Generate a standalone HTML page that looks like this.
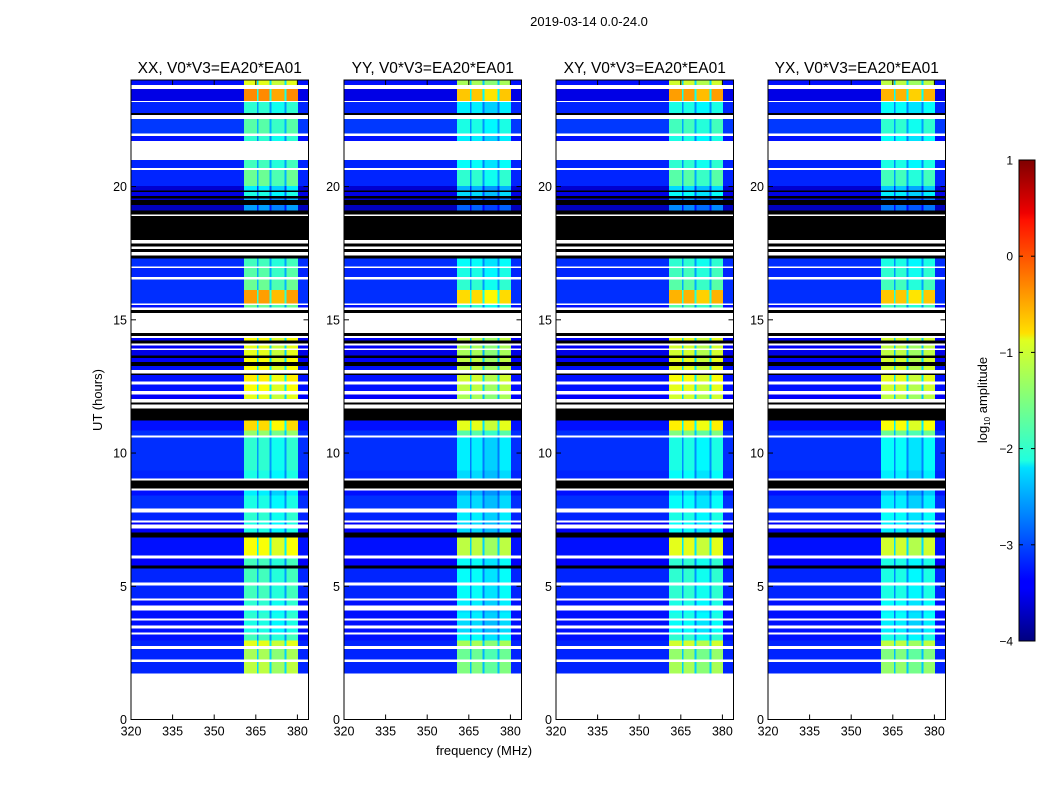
<!DOCTYPE html>
<html><head><meta charset="utf-8"><style>
html,body{margin:0;padding:0;background:#fff;}
body{width:1050px;height:800px;overflow:hidden;font-family:"Liberation Sans","DejaVu Sans",sans-serif;}
</style></head><body>
<svg id="fig" width="1050" height="800" xmlns="http://www.w3.org/2000/svg" font-family="Liberation Sans, DejaVu Sans, sans-serif">
<defs>
<linearGradient id="jet" x1="0" y1="1" x2="0" y2="0">
<stop offset="0" stop-color="#00007f"/><stop offset="0.11" stop-color="#0000ff"/><stop offset="0.125" stop-color="#0000ff"/>
<stop offset="0.36" stop-color="#00e0ff"/><stop offset="0.375" stop-color="#20ffdf"/><stop offset="0.5" stop-color="#7fff7f"/>
<stop offset="0.625" stop-color="#dfff20"/><stop offset="0.64" stop-color="#ffe000"/><stop offset="0.875" stop-color="#ff1000"/>
<stop offset="0.89" stop-color="#ef0000"/><stop offset="1" stop-color="#7f0000"/>
</linearGradient>
</defs>
<text x="589" y="26" font-size="13" text-anchor="middle">2019-03-14 0.0-24.0</text>
<g id="panels"></g>
<text transform="translate(102,400) rotate(-90)" font-size="13" text-anchor="middle">UT (hours)</text>
<text x="484" y="755" font-size="13" text-anchor="middle">frequency (MHz)</text>
<g id="cbar">
<rect x="1019" y="160" width="16" height="481" fill="url(#jet)" stroke="#000" stroke-width="1"/>
</g>
<text transform="translate(987,400) rotate(-90)" font-size="13" text-anchor="middle">log<tspan font-size="8" dy="3">10</tspan><tspan dy="-3"> amplitude</tspan></text>
</svg>
<script>
// ---- data ----
const panelTitles = ["XX, V0*V3=EA20*EA01","YY, V0*V3=EA20*EA01","XY, V0*V3=EA20*EA01","YX, V0*V3=EA20*EA01"];
const xTicks = [320,335,350,365,380];
const yTicks = [0,5,10,15,20];
const cbarTicks = [1,0,-1,-2,-3,-4];
const rfiBandStart = [360.7,366.0,370.6,376.0];
const rfiBandEnd = [365.4,370.0,375.3,380.3];
const rowHi = [24.0,23.81,23.66,23.21,23.17,22.76,22.68,22.53,22.00,21.89,21.71,20.99,20.69,20.62,20.02,19.86,19.79,19.64,19.56,19.49,19.30,19.11,18.96,18.90,18.00,17.87,17.76,17.65,17.54,17.42,17.31,17.01,16.94,16.60,16.52,16.11,15.62,15.55,15.47,15.36,15.25,14.50,14.39,14.31,14.23,14.12,14.04,13.93,13.86,13.67,13.56,13.41,13.26,13.11,12.99,12.92,12.69,12.58,12.32,12.20,12.02,11.90,11.83,11.68,11.23,10.85,10.66,10.59,9.35,9.05,8.97,8.67,8.60,8.41,7.92,7.77,7.47,7.40,7.32,7.17,7.02,6.83,6.16,6.05,5.78,5.67,5.14,5.03,4.54,4.47,4.28,4.09,4.02,3.79,3.72,3.53,3.42,3.27,3.19,2.97,2.75,2.65,2.25,2.15];
const rowLo = [23.81,23.66,23.21,23.17,22.76,22.68,22.53,22.00,21.89,21.71,20.99,20.69,20.62,20.02,19.86,19.79,19.64,19.56,19.49,19.30,19.11,18.96,18.90,18.00,17.87,17.76,17.65,17.54,17.42,17.31,17.01,16.94,16.60,16.52,16.11,15.62,15.55,15.47,15.36,15.25,14.50,14.39,14.31,14.23,14.12,14.04,13.93,13.86,13.67,13.56,13.41,13.26,13.11,12.99,12.92,12.69,12.58,12.32,12.20,12.02,11.90,11.83,11.68,11.23,10.85,10.66,10.59,9.35,9.05,8.97,8.67,8.60,8.41,7.92,7.77,7.47,7.40,7.32,7.17,7.02,6.83,6.16,6.05,5.78,5.67,5.14,5.03,4.54,4.47,4.28,4.09,4.02,3.79,3.72,3.53,3.42,3.27,3.19,2.97,2.75,2.65,2.25,2.15,1.72];
const rowKind = ["d","w","d","w","d","k","w","d","w","d","w","d","w","d","d","k","d","k","d","k","d","k","w","k","w","k","w","k","w","k","d","w","d","w","d","d","w","d","w","k","w","k","w","d","k","w","d","w","d","k","d","k","d","w","k","d","w","d","w","d","w","k","w","k","d","d","w","d","d","w","k","w","d","d","w","d","w","d","w","d","k","d","w","d","k","d","w","d","w","d","w","d","d","w","d","w","d","w","d","d","w","d","w","d"];
const rowBg = [-3.3,null,-3.5,null,-3.2,null,null,-3.1,null,-3.3,null,-3.2,null,-3.2,-3.6,null,-3.5,null,-3.6,null,-3.7,null,null,null,null,null,null,null,null,null,-3.15,null,-3.2,null,-3.15,-3.15,null,-3.3,null,null,null,null,null,-3.4,null,null,-3.4,null,-3.5,null,-3.4,null,-3.3,null,null,-3.3,null,-3.3,null,-3.4,null,null,null,null,-3.3,-3.15,null,-3.15,-3.2,null,null,null,-3.3,-3.15,null,-3.2,null,-3.4,null,-3.4,null,-3.3,null,-3.4,null,-3.2,null,-3.2,null,-3.3,null,-3.3,-3.3,null,-3.3,null,-3.3,null,-3.3,-3.2,null,-3.2,null,-3.2];
const rowRfi = [-1.0,null,-0.3,null,-1.9,null,null,-1.7,null,-1.9,null,-1.8,null,-1.6,-2.2,null,-2.0,null,-2.5,null,-2.6,null,null,null,null,null,null,null,null,null,-1.8,null,-1.7,null,-1.6,-0.4,null,-1.6,null,null,null,null,null,-0.9,null,null,-1.0,null,-1.0,null,-0.9,null,-0.9,null,null,-0.8,null,-0.9,null,-1.0,null,null,null,null,-0.7,-1.4,null,-1.9,-2.0,null,null,null,-2.2,-2.0,null,-1.9,null,-2.0,null,-2.0,null,-0.9,null,-1.8,null,-1.8,null,-1.8,null,-1.9,null,-2.0,-1.9,null,-2.0,null,-2.0,null,-1.8,-1.0,null,-1.3,null,-1.2];
const panelRfiShift = [0,-0.3,-0.1,-0.2];
// ---- layout ----
const panelLeft = [131,344,556,768];
const PW = 177.5, TOP = 80, BOT = 719.5, F0 = 320, F1 = 384, H0 = 0, H1 = 24, V0 = -4, V1 = 1;
const NS = "http://www.w3.org/2000/svg";
function jet(v){
  let t = Math.max(0, Math.min(1, (v - V0) / (V1 - V0)));
  const c = x => Math.round(255 * Math.max(0, Math.min(1, x)));
  const r = c(Math.min(4*t-1.5, -4*t+4.5)), g = c(Math.min(4*t-0.5, -4*t+3.5)), b = c(Math.min(4*t+0.5, -4*t+2.5));
  return `rgb(${r},${g},${b})`;
}
function mk(tag, attrs, parent){ const e = document.createElementNS(NS, tag); for (const k in attrs) e.setAttribute(k, attrs[k]); parent.appendChild(e); return e; }
const panels = document.getElementById('panels');
panelTitles.forEach((title, p) => {
  const L = panelLeft[p];
  const xs = f => L + (f - F0) / (F1 - F0) * PW;
  const ys = h => BOT - (h - H0) / (H1 - H0) * (BOT - TOP);
  const g = mk('g', {}, panels);
  
  
  const hm = mk('g', {'shape-rendering':'crispEdges'}, g);
  
  
  for (let i = 0; i < rowHi.length; i++) {
    const y0 = ys(rowHi[i]), y1 = ys(rowLo[i]), k = rowKind[i];
    if (k === 'w' || k === undefined) continue;
    if (k === 'd' && (rowBg[i] == null || rowRfi[i] == null)) continue;
    const base = k === 'k' ? '#000' : jet(rowBg[i]);
    const r = mk('rect', {x: xs(F0), y: y0, width: PW, height: y1 - y0, fill: base}, hm);
    
    
    if (k === 'd') {
      const gap = mk('rect', {x: xs(rfiBandStart[0]), y: y0, width: xs(rfiBandEnd[3]) - xs(rfiBandStart[0]), height: y1 - y0, fill: jet((rowRfi[i] + panelRfiShift[p] + rowBg[i]) / 2 - 0.1)}, hm);
      
      
      for (let b = 0; b < rfiBandStart.length; b++) {
        const c = mk('rect', {x: xs(rfiBandStart[b]), y: y0, width: xs(rfiBandEnd[b]) - xs(rfiBandStart[b]), height: y1 - y0, fill: jet(rowRfi[i] + panelRfiShift[p] - (b === 2 ? 0.15 : 0))}, hm);
        
        
      }
    }
  }
  const frame = mk('rect', {x: L, y: TOP, width: PW, height: BOT - TOP, fill: 'none', stroke: '#000', 'stroke-width': 1}, g);
  
  
  const t = mk('text', {x: L + PW/2, y: 73, 'font-size': 15.5, 'text-anchor': 'middle'}, g);
  t.textContent = title;
  
  
  xTicks.forEach(f => {
    const x = xs(f);
    mk('line', {x1: x, x2: x, y1: BOT, y2: BOT - 5, stroke: '#000'}, g);
    mk('line', {x1: x, x2: x, y1: TOP, y2: TOP + 5, stroke: '#000'}, g);
    const l = mk('text', {x: x, y: BOT + 16, 'font-size': 12.5, 'text-anchor': 'middle'}, g);
    l.textContent = f;
    
    
  });
  yTicks.forEach(h => {
    const y = ys(h);
    mk('line', {x1: L, x2: L + 5, y1: y, y2: y, stroke: '#000'}, g);
    mk('line', {x1: L + PW, x2: L + PW - 5, y1: y, y2: y, stroke: '#000'}, g);
    const l = mk('text', {x: L - 4, y: y + 4.5, 'font-size': 12.5, 'text-anchor': 'end'}, g);
    l.textContent = h;
    
    
  });
});
const cb = document.getElementById('cbar');
cbarTicks.forEach(v => {
  const y = 641 - (v - V0) / (V1 - V0) * 481;
  mk('line', {x1: 1019, x2: 1023, y1: y, y2: y, stroke: '#000'}, cb);
  mk('line', {x1: 1035, x2: 1031, y1: y, y2: y, stroke: '#000'}, cb);
  const l = mk('text', {x: 1013, y: y + 4.5, 'font-size': 12, 'text-anchor': 'end'}, cb);
  l.textContent = v < 0 ? '\u2212' + Math.abs(v) : String(v);
  
  
});
</script>
</body></html>
